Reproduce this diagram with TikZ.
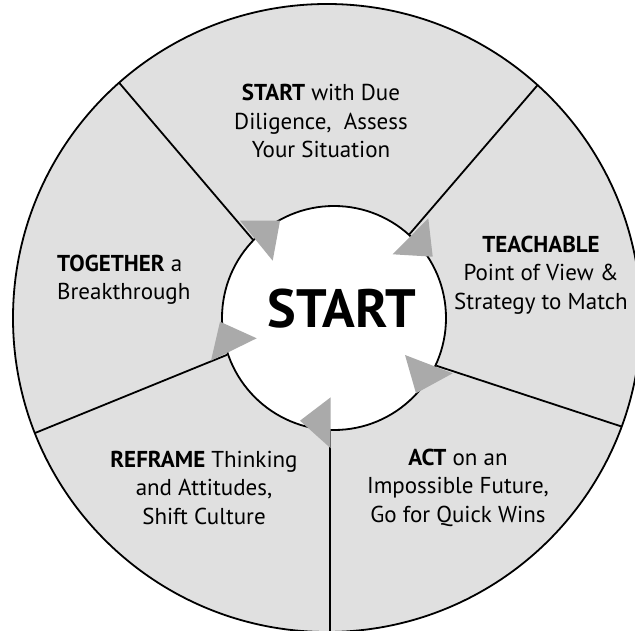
\documentclass[tikz,border=0pt]{standalone}
\usepackage{fontspec}
\setmainfont{PT Sans}
\usepackage{tikz}
\usetikzlibrary{calc}
\usetikzlibrary{positioning}
\definecolor{wedgegray}{RGB}{224,224,224}
\definecolor{pointergray}{RGB}{170,170,170}
\tikzset{>=latex}
\tikzstyle{phase} = [draw=none, inner sep = 0, align=center, anchor=base, font=\fontsize{23}{28.5}\selectfont]
\tikzstyle{divider} = [-, line width=1.8pt, draw=black]
\tikzstyle{pointer} = [fill=pointergray, draw=none]

\begin{document}
\begin{tikzpicture}[x=1pt, y=-1pt]
\useasboundingbox (0,0) rectangle (635,631);
% wheel
\filldraw [fill=wedgegray, line width=1.8pt] (327,318) circle (314pt);
\coordinate (rimtl) at (119.1,82.7);
\coordinate (rimtr) at (537.6,85.1);
\coordinate (rimr) at (621.5,426.5);
\coordinate (rimb) at (330,640);
\coordinate (riml) at (34.8,433.1);
\node [draw, circle, fill=white, line width=1.8pt, minimum size=224pt, inner sep = 0] (hub) at (334,318) {};
\draw [divider] (hub.136) to (rimtl);
\draw [divider] (hub.48) to (rimtr);
\draw [divider] (hub.-25) to (rimr);
\draw [divider] (hub.-92) to (rimb);
\draw [divider] (hub.199.5) to (riml);
% pointers
\fill [pointer] (240,220.7) -- (280,220.7) -- (272.7,260.7) -- cycle;
\fill [pointer] (428.3,218.3) -- (432.7,256.7) -- (392.7,254.3) -- cycle;
\fill [pointer] (405,355) -- (452.7,373.3) -- (416,393.3) -- cycle;
\fill [pointer] (330.7,397.3) -- (330.7,448.3) -- (300,420.7) -- cycle;
\fill [pointer] (220,321.7) -- (256.7,338.3) -- (211,360.7) -- cycle;
% labels (base = last line)
\node [phase, font=\fontsize{54}{60}\selectfont\bfseries] (title) at (342,327.5) {START};
\node [phase] (due) at (321,158) {\textbf{START} with Due\\Diligence,\ \ Assess\\Your Situation};
\node [phase] (teach) at (541,309) {\textbf{TEACHABLE}\\Point of View \&\\Strategy to Match};
\node [phase] (act) at (458,522) {\textbf{ACT} on an\\Impossible Future,\\Go for Quick Wins};
\node [phase] (reframe) at (204,524) {\textbf{REFRAME} Thinking\\and Attitudes,\\Shift Culture};
\node [phase, align=left, anchor=base west] (together) at (57,300) {\textbf{TOGETHER} a\\Breakthrough};
\end{tikzpicture}
\end{document}
